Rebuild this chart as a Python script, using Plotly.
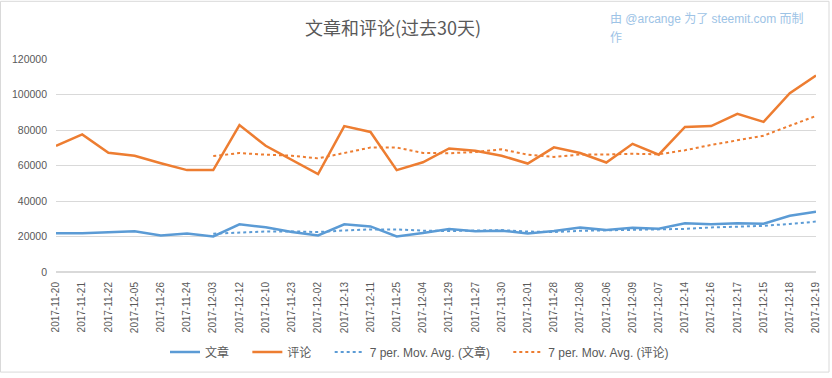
import plotly.graph_objects as go

dates = ["2017-11-20", "2017-11-21", "2017-11-22", "2017-12-05", "2017-11-26", "2017-11-24",
         "2017-12-03", "2017-12-12", "2017-12-10", "2017-11-23", "2017-12-02", "2017-12-13",
         "2017-12-11", "2017-11-25", "2017-12-04", "2017-11-29", "2017-11-27", "2017-11-30",
         "2017-12-01", "2017-11-28", "2017-12-08", "2017-12-06", "2017-12-09", "2017-12-07",
         "2017-12-14", "2017-12-16", "2017-12-17", "2017-12-15", "2017-12-18", "2017-12-19"]

posts = [21800, 21800, 22400, 23000, 20600, 21700, 20000, 26900, 25200, 22600,
         20600, 26900, 25700, 20000, 22000, 24200, 23000, 23300, 21700, 23100,
         25000, 23700, 25000, 24400, 27400, 26900, 27400, 27200, 31700, 33900]

comments = [71000, 77500, 67200, 65500, 61300, 57400, 57400, 82800, 71100, 63000,
            55200, 82200, 78900, 57400, 61800, 69600, 68300, 65500, 61100, 70200,
            67000, 61700, 72200, 66100, 81700, 82200, 89100, 84600, 100700, 110700]

posts_ma = [None, None, None, None, None, None,
            21600, 22300, 22800, 22900, 22500, 23400, 24000, 24000, 23300, 23100,
            23200, 23600, 22800, 22500, 23200, 23400, 23500, 23700, 24300, 25100,
            25700, 26000, 27100, 28400]

comments_ma = [None, None, None, None, None, None,
               65300, 67000, 66100, 65500, 64000, 67000, 70100, 70100, 67100, 66900,
               67600, 69100, 66100, 64800, 66200, 66200, 66600, 66300, 68600, 71600,
               74300, 76800, 82400, 87900]

series_names = ["文章", "评论", "7 per. Mov. Avg. (文章)", "7 per. Mov. Avg. (评论)"]

BLUE = "#5B9BD5"
ORANGE = "#ED7D31"
GRAY = "#595959"
FONT = "Liberation Sans, Noto Sans CJK SC, sans-serif"
NB = "\u00a0"

# plot area in pixels
L, R, T, B = 56, 16, 59, 103
PW, PH = 832 - L - R, 378 - T - B


def px(x):
    return (x - L) / PW


def py(y):
    return (378 - B - y) / PH


fig = go.Figure()
fig.add_trace(go.Scatter(x=dates, y=posts, mode="lines", name=series_names[0] + NB * 4,
                         line=dict(color=BLUE, width=2.5)))
fig.add_trace(go.Scatter(x=dates, y=comments, mode="lines", name=series_names[1] + NB * 4,
                         line=dict(color=ORANGE, width=2.5)))
fig.add_trace(go.Scatter(x=dates, y=posts_ma, mode="lines", name=series_names[2] + NB * 4,
                         line=dict(color=BLUE, width=2, dash="dot")))
fig.add_trace(go.Scatter(x=dates, y=comments_ma, mode="lines", name=series_names[3],
                         line=dict(color=ORANGE, width=2, dash="dot")))

fig.update_layout(
    width=832, height=378,
    margin=dict(l=L, r=R, t=T, b=B),
    paper_bgcolor="white", plot_bgcolor="white",
    font=dict(family=FONT, color=GRAY, size=11),
    title=dict(text="文章和评论(过去30天)", x=px(415), xanchor="center", y=1 - 29 / 378, yanchor="middle",
               font=dict(family="Noto Sans CJK SC, sans-serif", size=18, color="#595959")),
    showlegend=True,
    legend=dict(orientation="h", x=px(165), xanchor="left", y=py(356), yanchor="middle",
                font=dict(size=12, color=GRAY), itemwidth=30, bgcolor="rgba(0,0,0,0)"),
    xaxis=dict(type="category", tickangle=-90, showgrid=False, showline=False, automargin=False,
               tickfont=dict(size=10, color=GRAY), ticks="", zeroline=False,
               ticklabelstandoff=7),
    yaxis=dict(range=[0, 120000], dtick=20000, tickformat="d", showgrid=True, automargin=False,
               gridcolor="#D9D9D9", gridwidth=1, zeroline=True, zerolinecolor="#D9D9D9",
               showline=False, ticks="", tickfont=dict(size=10.5, color=GRAY),
               ticklabelstandoff=8),
    annotations=[
        dict(text="由 @arcange 为了 steemit.com 而制", xref="paper", yref="paper",
             x=px(608), y=py(18.5), xanchor="left", yanchor="middle", showarrow=False,
             font=dict(family=FONT, size=12, color="#9DC3E6")),
        dict(text="作", xref="paper", yref="paper",
             x=px(608), y=py(38), xanchor="left", yanchor="middle", showarrow=False,
             font=dict(family=FONT, size=12, color="#9DC3E6")),
    ],
    shapes=[dict(type="rect", xref="paper", yref="paper",
                 x0=px(0.5), x1=px(829), y0=py(376.5), y1=py(0.5),
                 line=dict(color="#D9D9D9", width=1), fillcolor="rgba(0,0,0,0)", layer="below")],
)

fig.write_html("out.html", config={"displayModeBar": False},
               post_script="document.body.style.margin='0';document.body.style.overflow='hidden';")
